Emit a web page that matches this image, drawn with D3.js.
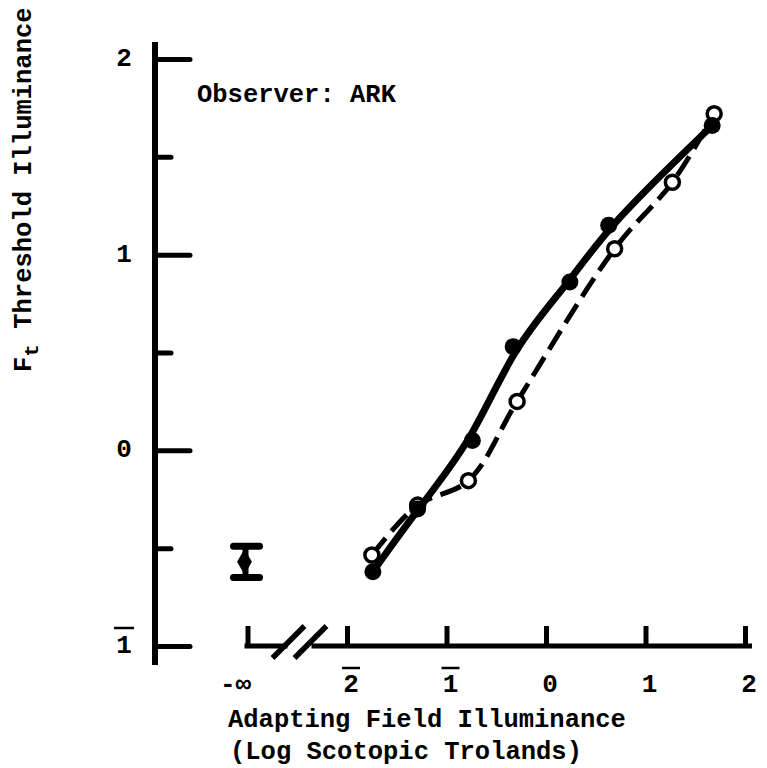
<!DOCTYPE html>
<html>
<head>
<meta charset="utf-8">
<script src="https://cdn.jsdelivr.net/npm/d3@7"></script>
<style>
  html, body { margin: 0; padding: 0; background: #fff; }
  svg { display: block; }
  text { font-family: "Liberation Mono", "Courier New", monospace; font-weight: bold; fill: #000; }
</style>
</head>
<body>
<svg id="chart" width="767" height="768"></svg>
<script>
// Adapting field, log scotopic trolands; -3 is the plotting position used for −∞
const xTickValues = [-3, -2, -1, 0, 1, 2];
const xTickLabels = ["-∞", "2", "1", "0", "1", "2"];
const xTickBarred = [false, true, true, false, false, false];

// Threshold illuminance, log units
const yTickValues = [-1, 0, 1, 2];
const yTickLabels = ["1", "0", "1", "2"];
const yTickBarred = [true, false, false, false];
const yMinorTicks = [-0.5, 0.5, 1.5];

// Filled symbols, solid curve
const filledX = [-1.74, -1.29, -0.74, -0.33, 0.24, 0.63, 1.67];
const filledY = [-0.62, -0.30, 0.05, 0.53, 0.86, 1.15, 1.66];

// Open symbols, dashed curve
const openX = [-1.75, -1.29, -0.78, -0.29, 0.69, 1.27, 1.69];
const openY = [-0.535, -0.28, -0.155, 0.25, 1.03, 1.37, 1.72];

// Dark-adapted threshold (field at −∞) with its spread
const darkX = [-3];
const darkY = [-0.57];
const darkErr = [0.08];

const svg = d3.select("#chart");
const x = d3.scaleLinear().domain([-2, 2]).range([347, 745]);
const y = d3.scaleLinear().domain([-1, 2]).range([646, 59]);

const axisX0 = 155;            // vertical axis position
const axisY0 = y(-1);          // horizontal axis position
const labelSize = 26;
const titleSize = 25.5;

// ---- vertical axis
svg.append("line")
  .attr("x1", axisX0).attr("x2", axisX0)
  .attr("y1", 42).attr("y2", 665)
  .attr("stroke", "#000").attr("stroke-width", 6);

const yMajor = svg.append("g").attr("transform", `translate(${axisX0},0)`)
  .call(d3.axisRight(y).tickValues(yTickValues).tickSize(35).tickFormat(""));
const yMinor = svg.append("g").attr("transform", `translate(${axisX0},0)`)
  .call(d3.axisRight(y).tickValues(yMinorTicks).tickSize(16).tickFormat(""));
[yMajor, yMinor].forEach(g => {
  g.select(".domain").remove();
  g.selectAll(".tick line").attr("stroke", "#000").attr("stroke-width", 5).attr("stroke-linecap", "round");
});

yTickValues.forEach((v, i) => {
  svg.append("text")
    .attr("x", 124).attr("y", y(v))
    .attr("text-anchor", "middle")
    .attr("dominant-baseline", "central")
    .attr("font-size", labelSize)
    .text(yTickLabels[i]);
  if (yTickBarred[i]) {
    svg.append("line")
      .attr("x1", 114).attr("x2", 134)
      .attr("y1", y(v) - 18).attr("y2", y(v) - 18)
      .attr("stroke", "#000").attr("stroke-width", 2.5);
  }
});

// ---- horizontal axis with a break between −∞ and the finite range
const xPos = v => x(v);
const xAxis = svg.append("g").attr("transform", `translate(0,${axisY0})`)
  .call(d3.axisTop(x).tickValues(xTickValues).tickSize(20).tickFormat(""));
xAxis.select(".domain").remove();
xAxis.selectAll(".tick line").attr("stroke", "#000").attr("stroke-width", 5);

const brk = xPos(-3);
svg.append("line")
  .attr("x1", brk - 3).attr("x2", brk + 40)
  .attr("y1", axisY0).attr("y2", axisY0)
  .attr("stroke", "#000").attr("stroke-width", 5);
svg.append("line")
  .attr("x1", brk + 64).attr("x2", 752)
  .attr("y1", axisY0).attr("y2", axisY0)
  .attr("stroke", "#000").attr("stroke-width", 5);
[0, 22].forEach(dx => {
  svg.append("line")
    .attr("x1", brk + 25 + dx).attr("y1", axisY0 + 12)
    .attr("x2", brk + 57 + dx).attr("y2", axisY0 - 20)
    .attr("stroke", "#000").attr("stroke-width", 5.5);
});

xTickValues.forEach((v, i) => {
  const cx = v === -3 ? xPos(v) - 12 : xPos(v) + 4;
  svg.append("text")
    .attr("x", cx).attr("y", 692)
    .attr("text-anchor", "middle")
    .attr("font-size", labelSize)
    .text(xTickLabels[i]);
  if (xTickBarred[i]) {
    svg.append("line")
      .attr("x1", cx - 9).attr("x2", cx + 9)
      .attr("y1", 668).attr("y2", 668)
      .attr("stroke", "#000").attr("stroke-width", 2.5);
  }
});

// ---- axis titles
svg.append("text")
  .attr("x", 228).attr("y", 727)
  .attr("font-size", titleSize)
  .text("Adapting Field Illuminance");
svg.append("text")
  .attr("x", 230).attr("y", 759)
  .attr("font-size", titleSize)
  .text("(Log Scotopic Trolands)");

const yTitle = svg.append("text")
  .attr("transform", "translate(31,372) rotate(-90)")
  .attr("font-size", titleSize);
yTitle.append("tspan").text("F");
yTitle.append("tspan").attr("dy", 7).attr("font-size", 21).text("t");
yTitle.append("tspan").attr("dy", -7).text(" Threshold Illuminance");

svg.append("text")
  .attr("x", 197).attr("y", 102)
  .attr("font-size", titleSize)
  .text("Observer: ARK");

// ---- curves
const filled = filledX.map((v, i) => [v, filledY[i]]);
const open = openX.map((v, i) => [v, openY[i]]);
const solidLine = d3.line().x(d => x(d[0])).y(d => y(d[1])).curve(d3.curveBasis);
const dashedLine = d3.line().x(d => x(d[0])).y(d => y(d[1])).curve(d3.curveCatmullRom.alpha(0.5));

svg.append("path").datum(open)
  .attr("d", dashedLine)
  .attr("fill", "none").attr("stroke", "#000")
  .attr("stroke-width", 5).attr("stroke-dasharray", "22,9");

svg.append("path").datum(filled)
  .attr("d", solidLine)
  .attr("fill", "none").attr("stroke", "#000")
  .attr("stroke-width", 7).attr("stroke-linecap", "round");

// ---- symbols
svg.append("g").selectAll("circle").data(open).join("circle")
  .attr("cx", d => x(d[0])).attr("cy", d => y(d[1]))
  .attr("r", 7).attr("fill", "#fff")
  .attr("stroke", "#000").attr("stroke-width", 3.5);

svg.append("g").selectAll("circle").data(filled).join("circle")
  .attr("cx", d => x(d[0])).attr("cy", d => y(d[1]))
  .attr("r", 8.5).attr("fill", "#000");

// ---- dark-adapted point with spread bar
darkX.forEach((v, i) => {
  const cx = xPos(v), lo = y(darkY[i] - darkErr[i]), hi = y(darkY[i] + darkErr[i]);
  const g = svg.append("g").attr("stroke", "#000").attr("stroke-linecap", "round");
  g.append("line").attr("x1", cx - 2).attr("x2", cx - 2).attr("y1", hi).attr("y2", lo).attr("stroke-width", 6);
  g.append("line").attr("x1", cx - 14).attr("x2", cx + 12).attr("y1", hi).attr("y2", hi).attr("stroke-width", 7);
  g.append("line").attr("x1", cx - 14).attr("x2", cx + 12).attr("y1", lo).attr("y2", lo).attr("stroke-width", 7);
  svg.append("path")
    .attr("d", d3.symbol(d3.symbolDiamond, 190)())
    .attr("transform", `translate(${cx - 3},${y(darkY[i])})`)
    .attr("fill", "#000");
});
</script>
</body>
</html>
